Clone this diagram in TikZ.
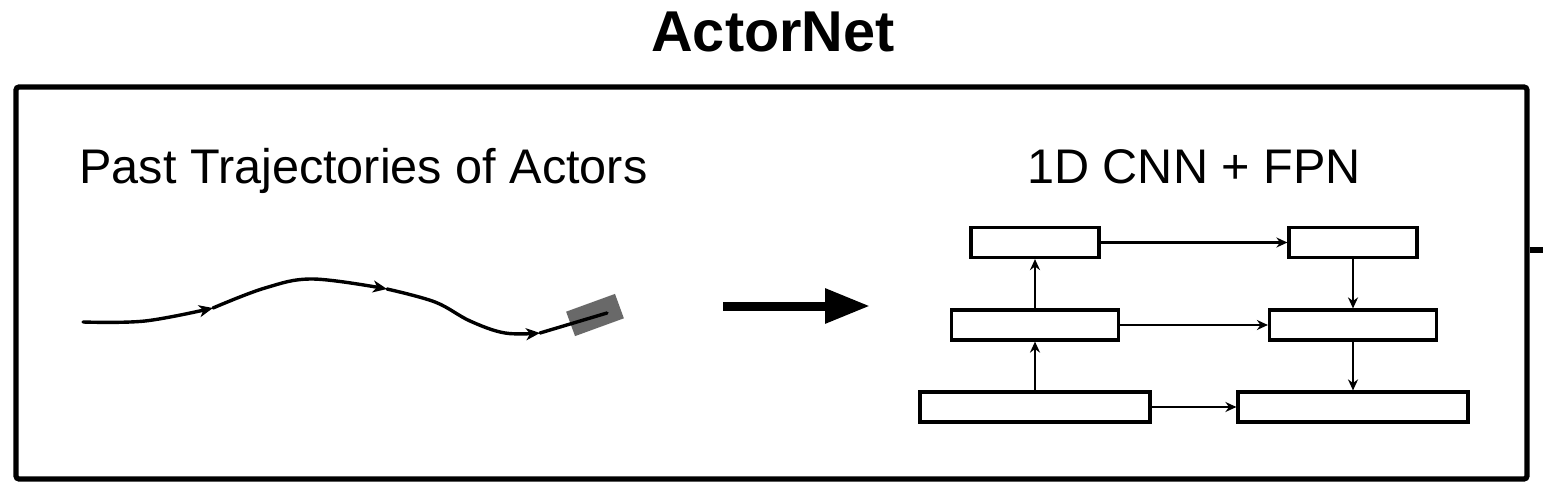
\documentclass[tikz,border=0pt]{standalone}
\usepackage{fontspec}
\setmainfont{Liberation Sans}
\usetikzlibrary{arrows.meta}
\definecolor{cargray}{HTML}{696969}
\begin{document}
\begin{tikzpicture}[x=0.5pt,y=-0.5pt,
  fpn/.style={draw, line width=1.6pt, rectangle, inner sep=0pt, minimum height=15pt},
  conn/.style={line width=1.25pt, -{Stealth[length=5.5pt,width=5pt,inset=1.8pt]}},
  trajline/.style={line width=1.7pt, line cap=round},
  trajarrow/.style={trajline, -{Stealth[length=7pt,width=6pt,inset=2pt]}},
  lbl/.style={font=\fontsize{24.3pt}{28pt}\selectfont, inner sep=0pt}]
\useasboundingbox (0,0) rectangle (1543,487);

% title
\node[font=\bfseries\fontsize{28.8pt}{32pt}\selectfont, anchor=base, inner sep=0pt] (title) at (773,51) {ActorNet};

% frame
\node[draw, line width=2.6pt, rounded corners=1.5pt, minimum width=755.5pt, minimum height=196pt, inner sep=0pt] (frame) at (771.5,283) {};
\coordinate (stubend) at (1543,250);
\draw[line width=2.8pt] (frame.east |- stubend) -- (stubend);

% labels
\node[lbl, anchor=base west] (pastlbl) at (79,183) {Past Trajectories of Actors};
\node[lbl, anchor=base] (cnnlbl) at (1194,183) {1D CNN + FPN};

% trajectory
\node[fill=cargray, rotate=20, minimum width=26pt, minimum height=13pt, inner sep=0pt] (car) at (595,315) {};
\coordinate (t0) at (83,322);
\coordinate (t1) at (213,308);
\coordinate (t2) at (387,289);
\coordinate (t3) at (540,333);
\coordinate (t4) at (607,313);
\draw[trajarrow] plot[smooth, tension=0.6] coordinates {(t0) (145,321) (t1)};
\draw[trajarrow] plot[smooth, tension=0.6] coordinates {(t1) (265,288) (313,279) (t2)};
\draw[trajarrow] plot[smooth, tension=0.6] coordinates {(t2) (435,302) (470,321) (505,333) (t3)};
\draw[trajline] (t3) -- (t4);

% big arrow
\coordinate (ba) at (723,306);
\coordinate (bb) at (870,306);
\draw[line width=4.5pt, -{Triangle[length=22.5pt,width=16.5pt]}] (ba) -- (bb);

% FPN
\node[fpn, minimum width=64pt] (tl) at (1035,242.5) {};
\node[fpn, minimum width=64pt] (tr) at (1353,242.5) {};
\node[fpn, minimum width=83.5pt] (ml) at (1035,325) {};
\node[fpn, minimum width=83.5pt] (mr) at (1353,325) {};
\node[fpn, minimum width=115pt] (bl) at (1035,407) {};
\node[fpn, minimum width=115pt] (br) at (1353,407) {};
\draw[conn] (bl) -- (ml);
\draw[conn] (ml) -- (tl);
\draw[conn] (tl) -- (tr);
\draw[conn] (ml) -- (mr);
\draw[conn] (bl) -- (br);
\draw[conn] (tr) -- (mr);
\draw[conn] (mr) -- (br);
\end{tikzpicture}
\end{document}
